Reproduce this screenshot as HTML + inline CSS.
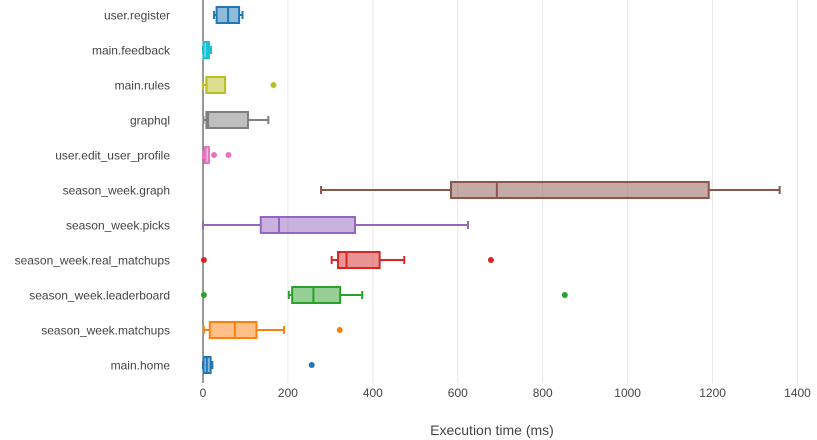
<!DOCTYPE html>
<html><head><meta charset="utf-8"><style>
html,body{margin:0;padding:0;background:#fff;}
svg{display:block;font-family:"Liberation Sans",sans-serif;}
</style></head><body>
<svg id="chart" width="817" height="440"></svg>
<script>
const categories=["user.register","main.feedback","main.rules","graphql","user.edit_user_profile","season_week.graph","season_week.picks","season_week.real_matchups","season_week.leaderboard","season_week.matchups","main.home"];
const mins=[26,0,0,1,0,278,0,303,202,2,0];
const q1s=[32,1,8,8,3,584,136,318,210,16,1];
const medians=[59,9,8,12,6,692,179,338,260,75,9];
const q3s=[85,14,52,106,14,1191,358,416,323,126,18];
const maxs=[93,19,52,154,14,1358,624,474,375,191,22];
const outliers=[[],[],[166],[],[26,60],[],[],[2,678],[2,852],[322],[256]];
const colors=["#1f77b4","#17becf","#bcbd22","#7f7f7f","#e377c2","#8c564b","#9467bd","#d62728","#2ca02c","#ff7f0e","#1f77b4"];
const ticks=[0,200,400,600,800,1000,1200,1400];

const NS="http://www.w3.org/2000/svg";
const svg=document.getElementById("chart");
const x0=203,x1=797.5,xMax=1400;
const xs=v=>x0+v/xMax*(x1-x0);
const ys=i=>15+i*35;
function mk(tag,attrs,parent){const e=document.createElementNS(NS,tag);for(const k in attrs)e.setAttribute(k,attrs[k]);(parent||svg).appendChild(e);return e;}

ticks.forEach(t=>{
  if(t>0){const g=mk("line",{x1:xs(t),x2:xs(t),y1:0,y2:383,stroke:"#e8e8e8","stroke-width":1});
  
  }
  const tl=mk("text",{x:xs(t),y:397,"text-anchor":"middle","font-size":12,fill:"#444"});
  tl.textContent=t;
  
  
});
const ax=mk("line",{x1:x0,x2:x0,y1:0,y2:383,stroke:"#333","stroke-width":1});



categories.forEach((c,i)=>{
  const y=ys(i),col=colors[i],h=16;
  const lab=mk("text",{x:170,y:y+4.5,"text-anchor":"end","font-size":12,fill:"#444"});
  lab.textContent=c;
  
  
  const g=mk("g",{});
  
  
  mk("line",{x1:xs(mins[i]),x2:xs(q1s[i]),y1:y,y2:y,stroke:col,"stroke-width":2},g);
  mk("line",{x1:xs(q3s[i]),x2:xs(maxs[i]),y1:y,y2:y,stroke:col,"stroke-width":2},g);
  mk("line",{x1:xs(mins[i]),x2:xs(mins[i]),y1:y-4,y2:y+4,stroke:col,"stroke-width":2},g);
  mk("line",{x1:xs(maxs[i]),x2:xs(maxs[i]),y1:y-4,y2:y+4,stroke:col,"stroke-width":2},g);
  mk("rect",{x:xs(q1s[i]),y:y-h/2,width:Math.max(xs(q3s[i])-xs(q1s[i]),1),height:h,fill:col,"fill-opacity":0.5,stroke:col,"stroke-width":2},g);
  mk("line",{x1:xs(medians[i]),x2:xs(medians[i]),y1:y-h/2,y2:y+h/2,stroke:col,"stroke-width":2},g);
  outliers[i].forEach(o=>{
    const p=mk("circle",{cx:xs(o),cy:y,r:3,fill:col},g);
    
    
  });
});
const title=mk("text",{x:492,y:435,"text-anchor":"middle","font-size":14,fill:"#444"});
title.textContent="Execution time (ms)";


</script>
</body></html>
